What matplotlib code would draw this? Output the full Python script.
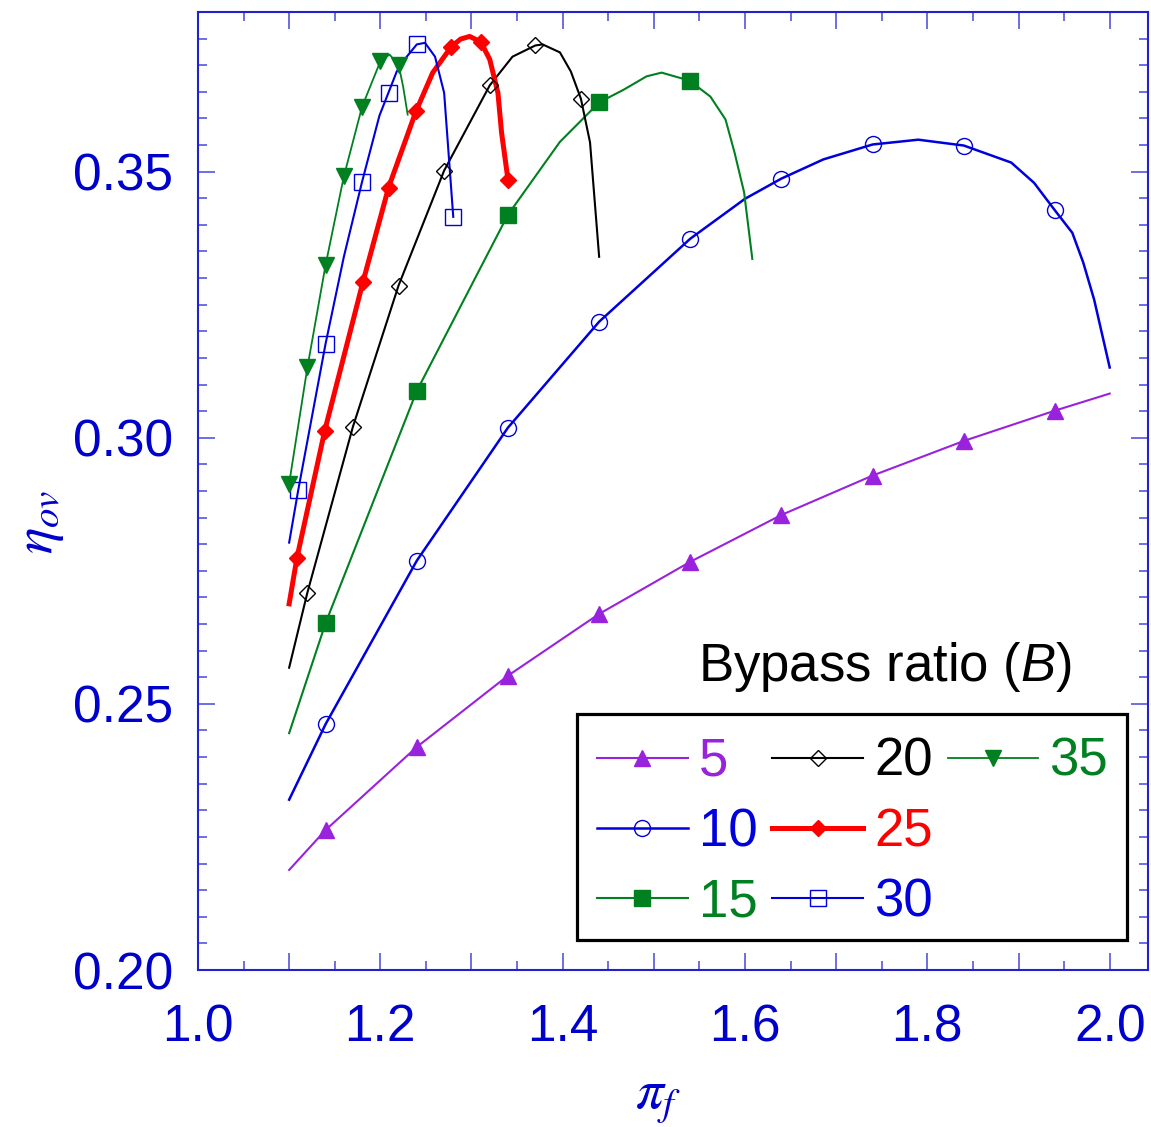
import numpy as np
import matplotlib
matplotlib.use("Agg")
import matplotlib.pyplot as plt
from matplotlib.lines import Line2D
from matplotlib.patches import Rectangle
from matplotlib.ticker import MultipleLocator, FuncFormatter

plt.rcParams['font.family'] = ['Liberation Sans', 'DejaVu Sans']
plt.rcParams['mathtext.fontset'] = 'custom'
plt.rcParams['mathtext.rm'] = 'Liberation Sans'
plt.rcParams['mathtext.it'] = 'Liberation Sans:italic'

# fan pressure ratio (pi_f) vs overall efficiency (eta_ov), one curve per bypass ratio
bypass = [5, 10, 15, 20, 25, 30, 35]

# B = 5
x5 = [1.10, 1.14, 1.24, 1.34, 1.44, 1.54, 1.64, 1.74, 1.84, 1.94, 2.00]
y5 = [0.2188, 0.2263, 0.2419, 0.2553, 0.2669, 0.2767, 0.2855, 0.2929, 0.2994, 0.3051, 0.3083]
mx5 = [1.14, 1.24, 1.34, 1.44, 1.54, 1.64, 1.74, 1.84, 1.94]
my5 = [0.2263, 0.2419, 0.2553, 0.2669, 0.2767, 0.2855, 0.2929, 0.2994, 0.3051]

# B = 10
x10 = [1.10, 1.14, 1.24, 1.34, 1.44, 1.54, 1.60, 1.64, 1.686, 1.74, 1.768, 1.79, 1.84,
       1.892, 1.917, 1.94, 1.959, 1.971, 1.983, 2.00]
y10 = [0.2320, 0.2462, 0.2769, 0.3019, 0.3218, 0.3374, 0.3449, 0.3487, 0.3523, 0.3551, 0.3556, 0.3560, 0.3549,
       0.3517, 0.3479, 0.3427, 0.3385, 0.3329, 0.3259, 0.3132]
mx10 = [1.14, 1.24, 1.34, 1.44, 1.54, 1.64, 1.74, 1.84, 1.94]
my10 = [0.2462, 0.2769, 0.3019, 0.3218, 0.3374, 0.3487, 0.3551, 0.3549, 0.3427]

# B = 15
x15 = [1.10, 1.14, 1.24, 1.34, 1.397, 1.44, 1.467, 1.492, 1.5085, 1.539, 1.562, 1.5786, 1.5885, 1.599, 1.608]
y15 = [0.2445, 0.2652, 0.3088, 0.3419, 0.3556, 0.3630, 0.3654, 0.3679, 0.3686, 0.3671, 0.3641, 0.3598, 0.3536, 0.3461, 0.3336]
mx15 = [1.14, 1.24, 1.34, 1.44, 1.54]
my15 = [0.2652, 0.3088, 0.3419, 0.3630, 0.3671]

# B = 20
x20 = [1.10, 1.12, 1.17, 1.22, 1.27, 1.32, 1.345, 1.37, 1.378, 1.397, 1.409, 1.42, 1.43, 1.44]
y20 = [0.2568, 0.2709, 0.3021, 0.3286, 0.3502, 0.3662, 0.3716, 0.3737, 0.3739, 0.3724, 0.3688, 0.3637, 0.3555, 0.3340]
mx20 = [1.12, 1.17, 1.22, 1.27, 1.32, 1.37, 1.42]
my20 = [0.2709, 0.3021, 0.3286, 0.3502, 0.3662, 0.3737, 0.3637]

# B = 25
x25 = [1.10, 1.1085, 1.139, 1.181, 1.209, 1.239, 1.2575, 1.278, 1.288, 1.298, 1.310, 1.320, 1.329, 1.333, 1.340]
y25 = [0.2688, 0.2774, 0.3013, 0.3293, 0.3470, 0.3613, 0.3686, 0.3735, 0.3749, 0.3754, 0.3744, 0.3711, 0.3648, 0.3573, 0.3485]
mx25 = [1.1085, 1.139, 1.181, 1.209, 1.239, 1.278, 1.310, 1.340]
my25 = [0.2774, 0.3013, 0.3293, 0.3470, 0.3613, 0.3735, 0.3744, 0.3485]

# B = 30
x30 = [1.10, 1.11, 1.14, 1.16, 1.18, 1.199, 1.218, 1.229, 1.24, 1.249, 1.26, 1.27, 1.28]
y30 = [0.2803, 0.2902, 0.3177, 0.3340, 0.3481, 0.3605, 0.3688, 0.3716, 0.3739, 0.3742, 0.3716, 0.3648, 0.3415]
mx30 = [1.11, 1.14, 1.18, 1.21, 1.24, 1.28]
my30 = [0.2902, 0.3177, 0.3481, 0.3648, 0.3739, 0.3415]

# B = 35
x35 = [1.10, 1.12, 1.14, 1.16, 1.18, 1.20, 1.21, 1.22, 1.225, 1.23]
y35 = [0.2914, 0.3132, 0.3325, 0.3491, 0.3622, 0.3707, 0.3720, 0.3701, 0.3660, 0.3607]
mx35 = [1.10, 1.12, 1.14, 1.16, 1.18, 1.20, 1.22]
my35 = [0.2914, 0.3132, 0.3325, 0.3491, 0.3622, 0.3707, 0.3701]

purple = '#9922dd'
blue = '#0000dd'
green = '#008020'
red = '#ff0000'
black = '#000000'
axcol = '#0000cc'

series = [
    (x5, y5, mx5, my5, purple, '^', purple, 1.5, 12, 1.0),
    (x10, y10, mx10, my10, blue, 'o', 'none', 1.8, 11.5, 1.0),
    (x15, y15, mx15, my15, green, 's', green, 1.5, 12, 1.0),
    (x20, y20, mx20, my20, black, 'D', 'none', 1.5, 8.5, 1.0),
    (x25, y25, mx25, my25, red, 'D', red, 3.6, 8, 1.0),
    (x30, y30, mx30, my30, blue, 's', 'none', 1.5, 12, 1.0),
    (x35, y35, mx35, my35, green, 'v', green, 1.3, 12, 1.0),
]

W, H = 1151, 1127
fig = plt.figure(figsize=(W / 100, H / 100), dpi=100)
ax = fig.add_axes([0.172, 0.1393, 0.8254, 0.8501])

handles = []
for (lx, ly, mx, my, c, mk, fc, lw, ms, mew), b in zip(series, bypass):
    ax.plot(lx, ly, color=c, linewidth=lw, zorder=2)
    ax.plot(mx, my, linestyle='none', marker=mk, markersize=ms,
            markerfacecolor=fc, markeredgecolor=c, markeredgewidth=mew, zorder=3)
    handles.append(Line2D([], [], color=c, linewidth=lw, marker=mk, markersize=ms,
                          markerfacecolor=fc, markeredgecolor=c, markeredgewidth=mew,
                          label=str(b)))
# blank entry so the legend columns hold 3/3/1
handles.append(Line2D([], [], linestyle='none', marker='none', label=' '))

ax.set_xlim(1.0, 2.042)
ax.set_ylim(0.20, 0.38)

ax.xaxis.set_major_locator(MultipleLocator(0.1))
ax.xaxis.set_minor_locator(MultipleLocator(0.05))
ax.yaxis.set_major_locator(MultipleLocator(0.05))
ax.yaxis.set_minor_locator(MultipleLocator(0.005))
ax.xaxis.set_major_formatter(FuncFormatter(
    lambda v, p: '%.1f' % v if int(round(v * 10)) % 2 == 0 else ''))
ax.yaxis.set_major_formatter(FuncFormatter(lambda v, p: '%.2f' % v))

ax.tick_params(which='both', direction='in', top=True, right=True,
               color='#5555dd', width=1.2, labelcolor=axcol, labelsize=37)
ax.tick_params(which='major', length=12)
ax.tick_params(which='minor', length=6.5)
ax.tick_params(axis='x', which='major', pad=24)
ax.tick_params(axis='y', which='major', pad=18)
for s in ax.spines.values():
    s.set_color('#2222cc')
    s.set_linewidth(1.5)

fig.text(0.035, 0.537, r'$\eta_{ov}$', rotation=90, ha='center', va='center',
         fontsize=40, color=axcol, math_fontfamily='stix')
fig.text(0.572, 0.024, r'$\pi_f$', ha='center', va='center',
         fontsize=40, color=axcol, math_fontfamily='stix')

# legend frame drawn by hand, entries placed inside it
fig.patches.append(Rectangle((577 / W, 1 - 940 / H), 550 / W, 226 / H,
                             transform=fig.transFigure, fill=False,
                             edgecolor='black', linewidth=2.3, zorder=5))
leg = fig.legend(handles=handles, ncol=3, loc='upper left',
                 bbox_to_anchor=(597 / W, 1 - 737 / H), borderaxespad=0,
                 fontsize=38, handlelength=1.72, handletextpad=0.21,
                 columnspacing=0.28, labelspacing=0.38, borderpad=0,
                 frameon=False)
for t, c in zip(leg.get_texts(), [purple, blue, green, black, red, blue, green, black]):
    t.set_color(c)

fig.text(885 / W, 1 - 681 / H, 'Bypass ratio ($B$)', ha='center',
         va='baseline', fontsize=38, color='black')

fig.savefig('out.png', dpi=100)
